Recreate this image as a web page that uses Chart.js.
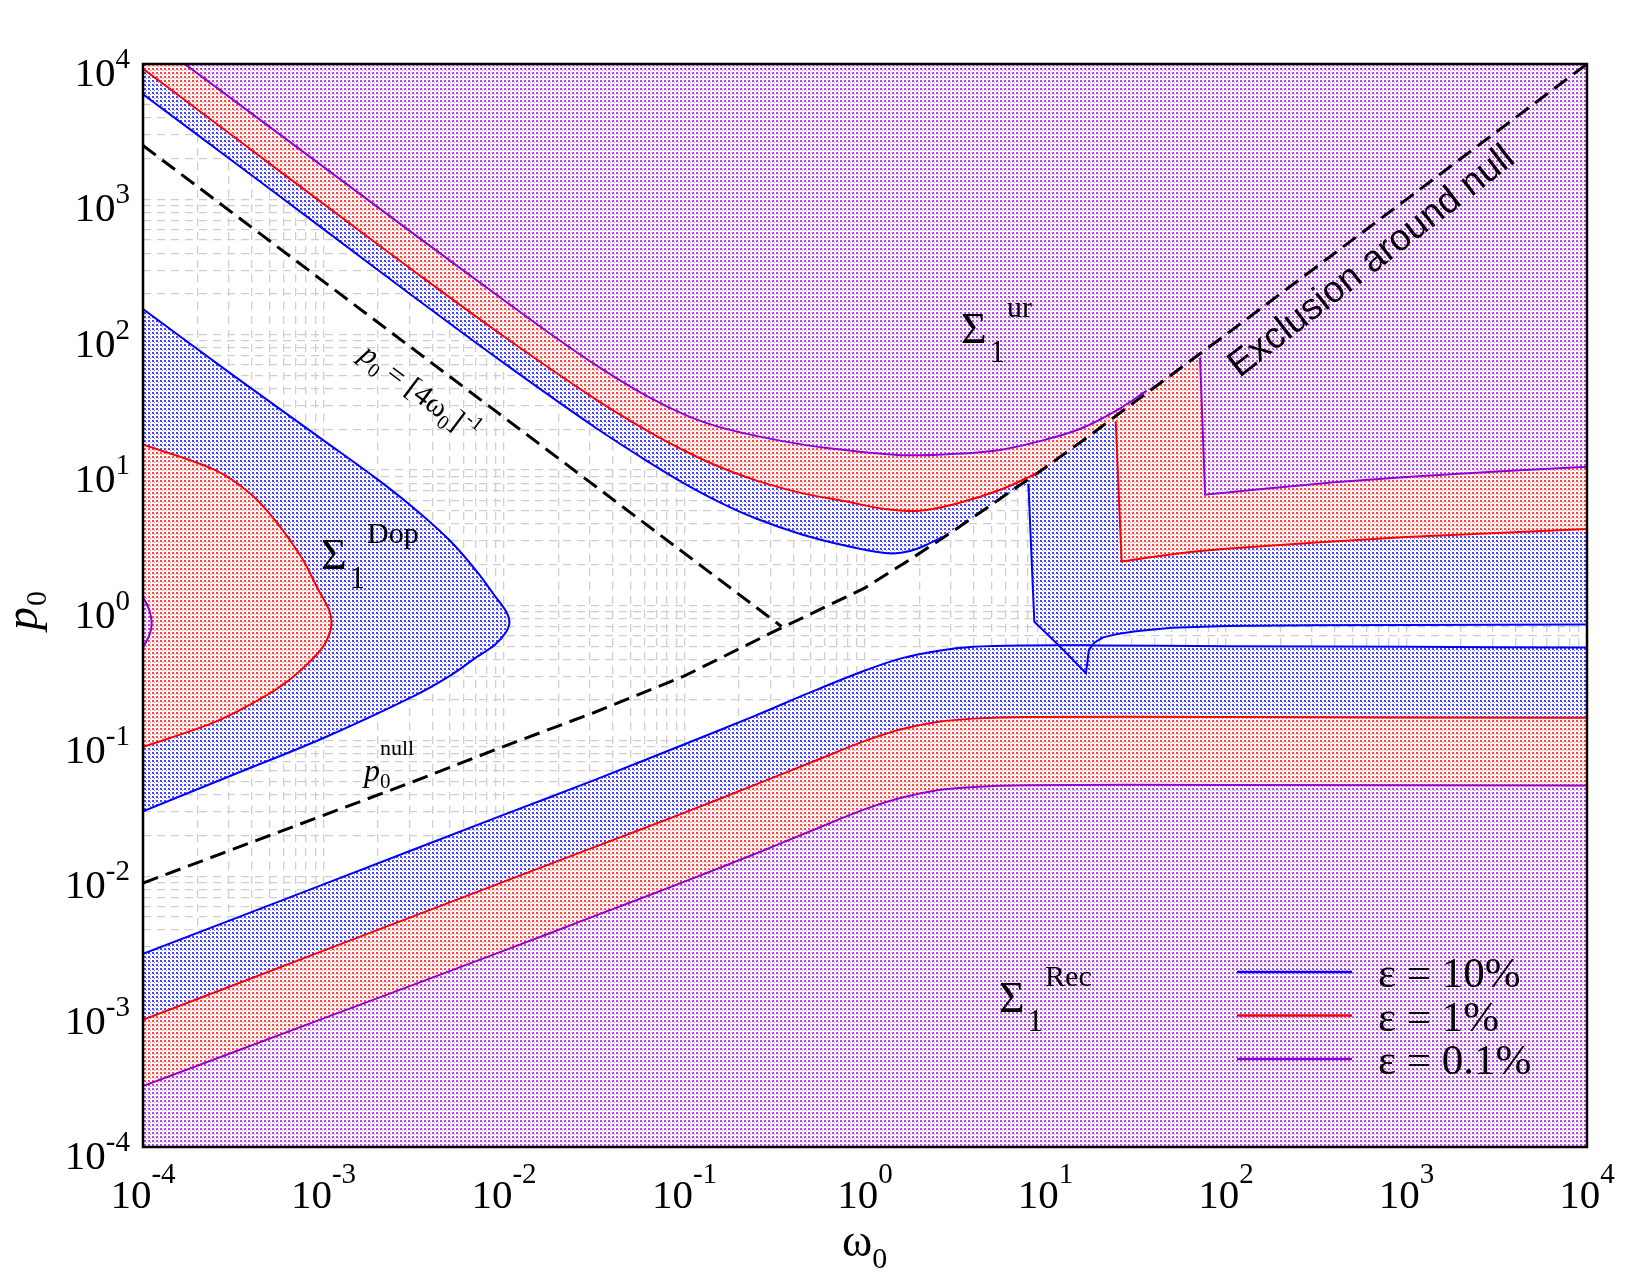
<!DOCTYPE html>
<html>
<head>
<meta charset="utf-8">
<script src="https://cdn.jsdelivr.net/npm/chart.js@4.4.1/dist/chart.umd.min.js"></script>
<style>
  html, body { margin: 0; padding: 0; background: #fff; }
  #wrap { width: 1650px; height: 1275px; }
</style>
</head>
<body>
<div id="wrap"><canvas id="chart" width="1650" height="1275"></canvas></div>
<script>
// axis range and decade tick labels
const xMin = 1e-4, xMax = 1e4, yMin = 1e-4, yMax = 1e4;
const decadeExps = [-4, -3, -2, -1, 0, 1, 2, 3, 4];

// dashed reference lines
const nullOmega = [1e-4, 3.16e-4, 1e-3, 3.16e-3, 1e-2, 3.16e-2, 0.1, 0.316, 1, 1.778, 3.162, 5.623, 10, 17.78, 31.62, 100, 316.2, 1000, 3162, 1e4];
const nullP = [8.91e-3, 1.585e-2, 2.82e-2, 5.01e-2, 9.12e-2, 0.162, 0.302, 0.646, 1.349, 2.188, 3.631, 6.166, 10.47, 18.2, 32.36, 100.4, 316.6, 1000, 3162, 1e4];
const invOmega = [1e-4, 0.345];
const invP = [2500, 0.70];

// eps = 10 %
const blueUpperOmega = [1e-4, 3.16e-4, 1e-3, 3.16e-3, 0.01, 0.0316, 0.0631, 0.1, 0.158, 0.251, 0.447, 0.794, 1.26, 1.585, 2.0, 2.63];
const blueUpperP = [5970, 1905, 603, 191, 61.7, 20.9, 11.5, 7.94, 5.75, 4.37, 3.35, 2.75, 2.45, 2.45, 2.66, 3.16];
const blueRightOmega = [8.04, 8.67, 10, 12.59, 16.75, 17.06, 17.38, 18.62, 20.89, 25.12, 31.62, 50.12, 100, 316.2, 1000, 1e4];
const blueRightP = [7.94, 0.759, 0.631, 0.468, 0.316, 0.380, 0.468, 0.531, 0.582, 0.617, 0.646, 0.684, 0.705, 0.715, 0.719, 0.724];
const blueLowerOmega = [1e-4, 1e-3, 1e-2, 3.16e-2, 0.1, 0.251, 0.501, 1, 1.585, 2.512, 3.981, 7.943, 19.95, 100, 1000, 1e4];
const blueLowerP = [2.67e-3, 8.71e-3, 2.85e-2, 5.13e-2, 9.44e-2, 0.155, 0.229, 0.331, 0.407, 0.462, 0.495, 0.507, 0.507, 0.501, 0.495, 0.490];
const blueDopOmega = [1e-4, 3.16e-4, 1e-3, 2.0e-3, 3.16e-3, 5.01e-3, 7.08e-3, 8.91e-3, 1.023e-2, 1.072e-2, 1.023e-2, 8.91e-3, 7.08e-3, 5.01e-3, 3.16e-3, 1e-3, 3.16e-4, 1e-4];
const blueDopP = [155, 50.1, 16.6, 8.51, 5.25, 3.02, 1.78, 1.175, 0.912, 0.759, 0.631, 0.513, 0.417, 0.302, 0.214, 0.105, 0.0562, 0.0302];

// eps = 1 %
const redUpperOmega = [1e-4, 3.16e-4, 1e-3, 3.16e-3, 0.01, 0.0316, 0.0631, 0.1, 0.158, 0.251, 0.447, 0.794, 1.26, 2.0, 3.16, 5.62, 8.91];
const redUpperP = [9230, 2924, 927, 296, 97.0, 33.9, 19.3, 13.9, 10.5, 8.37, 6.76, 5.86, 5.19, 5.01, 5.62, 7.16, 9.44];
const redRightOmega = [24.5, 26.4, 39.8, 63.1, 100, 316, 1000, 3162, 1e4];
const redRightP = [22.9, 2.11, 2.29, 2.48, 2.63, 2.92, 3.20, 3.43, 3.67];
const redLowerOmega = [1e-4, 1e-3, 1e-2, 3.16e-2, 0.1, 0.251, 0.501, 1, 1.585, 2.512, 3.981, 7.943, 100, 1e4];
const redLowerP = [8.71e-4, 2.82e-3, 9.12e-3, 1.64e-2, 2.95e-2, 4.79e-2, 6.92e-2, 0.1, 0.122, 0.138, 0.146, 0.150, 0.150, 0.148];
const redDopOmega = [1e-4, 2.51e-4, 3.98e-4, 5.62e-4, 7.59e-4, 9.33e-4, 1.072e-3, 1.107e-3, 1.084e-3, 1e-3, 8.32e-4, 6.31e-4, 4.47e-4, 2.51e-4, 1e-4];
const redDopP = [15.5, 10.0, 6.61, 3.98, 2.24, 1.318, 0.933, 0.759, 0.631, 0.501, 0.380, 0.275, 0.204, 0.138, 0.0902];

// eps = 0.1 %
const purpleUpperOmega = [1.70e-4, 3.16e-4, 1e-3, 3.16e-3, 0.01, 0.02, 0.0355, 0.0631, 0.1, 0.158, 0.316, 0.631, 1.585, 3.16, 5.62, 10, 15.85, 25.1, 36.3];
const purpleUpperP = [1e4, 5433, 1738, 556, 180, 92.3, 55.0, 34.7, 25.7, 20.7, 16.8, 14.5, 12.9, 13.2, 14.1, 16.8, 20.4, 27.9, 38.5];
const purpleRightOmega = [71.8, 76.6, 158.5, 398, 1000, 3162, 1e4];
const purpleRightP = [67.6, 6.59, 7.24, 8.13, 8.91, 9.77, 10.6];
const purpleLowerOmega = [1e-4, 1e-3, 1e-2, 3.16e-2, 0.1, 0.251, 0.501, 1, 1.585, 2.512, 3.981, 7.943, 100, 1e4];
const purpleLowerP = [2.82e-4, 8.91e-4, 2.82e-3, 5.07e-3, 9.12e-3, 1.48e-2, 2.16e-2, 3.13e-2, 3.80e-2, 4.32e-2, 4.57e-2, 4.70e-2, 4.73e-2, 4.68e-2];
const purpleDopOmega = [1e-4, 1.059e-4, 1.102e-4, 1.117e-4, 1.102e-4, 1.059e-4, 1e-4];
const purpleDopP = [1.148, 1.0, 0.851, 0.741, 0.646, 0.562, 0.490];

const BLUE = '#0000ff', RED = '#ff0000', PURPLE = '#9400d3';
const SERIF = '"Liberation Serif", "DejaVu Serif", serif';
const SANS = '"Liberation Sans", Arial, sans-serif';

const pts = (xs, ys) => xs.map((x, i) => ({ x, y: ys[i] }));
const nullPts = pts(nullOmega, nullP);

// log grid lines at 1..9 x 10^n
const gridValues = [];
for (let e = -4; e < 4; e++) for (let k = 1; k < 10; k++) gridValues.push(k * Math.pow(10, e));
gridValues.push(1e4);

function curve(key, xs, ys, color, smooth, label) {
  return {
    key, data: pts(xs, ys), showLine: true, borderColor: color, borderWidth: 2,
    pointRadius: 0, fill: false, tension: smooth ? 0.35 : 0, legendLabel: label
  };
}

// excluded regions: a curve key traces that dataset, {x,y} is a corner,
// {between: [a, b]} follows the null line between the ends of curves a and b
const regionDefs = [
  { color: BLUE, polys: [
    [{ x: xMin, y: yMax }, 'blueUpper', { between: ['blueUpper', 'blueRight'] }, 'blueRight', { x: xMax, y: yMax }],
    [{ x: xMin, y: yMin }, 'blueLower', { x: xMax, y: yMin }],
    ['blueDop']
  ] },
  { color: RED, polys: [
    [{ x: xMin, y: yMax }, 'redUpper', { between: ['redUpper', 'redRight'] }, 'redRight', { x: xMax, y: yMax }],
    [{ x: xMin, y: yMin }, 'redLower', { x: xMax, y: yMin }],
    ['redDop']
  ] },
  { color: PURPLE, polys: [
    ['purpleUpper', { between: ['purpleUpper', 'purpleRight'] }, 'purpleRight', { x: xMax, y: yMax }],
    [{ x: xMin, y: yMin }, 'purpleLower', { x: xMax, y: yMin }],
    ['purpleDop']
  ] }
];

function dotPattern(ctx, color) {
  const c = document.createElement('canvas');
  c.width = 4; c.height = 4;
  const g = c.getContext('2d');
  g.fillStyle = '#fff';
  g.fillRect(0, 0, 4, 4);
  g.fillStyle = color;
  g.globalAlpha = 0.72;
  g.fillRect(0, 0, 2, 2);
  g.globalAlpha = 0.5;
  g.fillRect(2, 2, 1, 1);
  return ctx.createPattern(c, 'repeat');
}

const fillPlugin = {
  id: 'regionFill',
  beforeDatasetsDraw(chart) {
    const { ctx, chartArea: a, scales: { x, y } } = chart;
    const byKey = k => chart.getDatasetMeta(chart.data.datasets.findIndex(d => d.key === k));
    const dataOf = k => chart.data.datasets.find(d => d.key === k).data;
    ctx.save();
    ctx.beginPath();
    ctx.rect(a.left, a.top, a.right - a.left, a.bottom - a.top);
    ctx.clip();
    regionDefs.forEach(r => {
      ctx.fillStyle = dotPattern(ctx, r.color);
      r.polys.forEach(poly => {
        let started = false;
        const go = (px, py) => {
          if (started) ctx.lineTo(px, py);
          else { ctx.moveTo(px, py); started = true; }
        };
        ctx.beginPath();
        poly.forEach(item => {
          if (typeof item === 'string') {
            const meta = byKey(item);
            meta.dataset.updateControlPoints(a, 'x');
            const el = meta.data;
            el.forEach((p, i) => {
              const q = el[i - 1];
              if (!q || q.cp2x === undefined || p.cp1x === undefined) go(p.x, p.y);
              else ctx.bezierCurveTo(q.cp2x, q.cp2y, p.cp1x, p.cp1y, p.x, p.y);
            });
          } else if (item.between) {
            const a0 = dataOf(item.between[0]), b0 = dataOf(item.between[1]);
            const lo = a0[a0.length - 1].x, hi = b0[0].x;
            nullPts.filter(p => p.x > lo && p.x < hi)
              .forEach(p => go(x.getPixelForValue(p.x), y.getPixelForValue(p.y)));
          } else {
            go(x.getPixelForValue(item.x), y.getPixelForValue(item.y));
          }
        });
        ctx.closePath();
        ctx.fill();
      });
    });
    ctx.restore();
  }
};

// text with sub/superscripts: parts = {t, font, dy, gap, keep}
function richText(ctx, parts, x, y, angle, align) {
  ctx.save();
  ctx.translate(x, y);
  ctx.rotate(angle);
  let w = 0;
  parts.forEach(p => {
    ctx.font = p.font;
    p.w = ctx.measureText(p.t).width;
    if (!p.keep) w += p.w + (p.gap || 0);
  });
  let cx = align === 'center' ? -w / 2 : align === 'right' ? -w : 0;
  ctx.textBaseline = 'alphabetic';
  ctx.textAlign = 'left';
  parts.forEach(p => {
    ctx.font = p.font;
    ctx.fillText(p.t, cx + (p.gap || 0), p.dy || 0);
    if (!p.keep) cx += p.w + (p.gap || 0);
  });
  ctx.restore();
}

const f = (size, style) => (style ? style + ' ' : '') + size + 'px ' + SERIF;

const decorPlugin = {
  id: 'decor',
  afterDatasetsDraw(chart) {
    const { ctx, chartArea: a } = chart;
    ctx.save();
    ctx.strokeStyle = '#000';
    ctx.lineWidth = 2.5;
    ctx.strokeRect(a.left, a.top, a.right - a.left, a.bottom - a.top);
    ctx.restore();
  },
  afterDraw(chart) {
    const { ctx, scales: { x, y } } = chart;
    ctx.save();
    ctx.fillStyle = '#000';
    decadeExps.forEach(e => {
      const v = Math.pow(10, e);
      richText(ctx, [{ t: '10', font: f(41) }, { t: String(e), font: f(29), dy: -25 }],
        x.getPixelForValue(v), 1208, 0, 'center');
      richText(ctx, [{ t: '10', font: f(41) }, { t: String(e), font: f(29), dy: -18 }],
        130, y.getPixelForValue(v) + 22, 0, 'right');
    });

    // axis titles
    richText(ctx, [{ t: 'ω', font: f(46) }, { t: '0', font: f(30), dy: 12 }], 842, 1256, 0, 'left');
    richText(ctx, [{ t: 'p', font: f(46, 'italic') }, { t: '0', font: f(30), dy: 9, gap: 1 }], 37, 630, -Math.PI / 2, 'left');

    // region labels
    const sigma = (sup, px, py) => richText(ctx, [
      { t: 'Σ', font: f(44) }, { t: '1', font: f(31), dy: 19, gap: 3 }, { t: sup, font: f(30), dy: -26, gap: 2 }
    ], px, py, 0, 'left');
    sigma('ur', 961, 343);
    sigma('Dop', 321, 569);
    sigma('Rec', 999, 1012);

    richText(ctx, [
      { t: 'p', font: f(30, 'italic') }, { t: '0', font: f(20), dy: 7 }, { t: ' = [4ω', font: f(30) },
      { t: '0', font: f(20), dy: 7 }, { t: ']', font: f(30) }, { t: '-1', font: f(20), dy: -13, gap: 2 }
    ], 414, 400, 37 * Math.PI / 180, 'center');

    richText(ctx, [
      { t: 'p', font: f(32, 'italic') }, { t: '0', font: f(21), dy: 7, keep: true }, { t: 'null', font: f(22), dy: -26 }
    ], 364, 781, 0, 'left');

    ctx.font = '37px ' + SANS;
    ctx.save();
    ctx.translate(1378, 270);
    ctx.rotate(-38 * Math.PI / 180);
    ctx.textAlign = 'center';
    ctx.textBaseline = 'alphabetic';
    ctx.fillText('Exclusion around null', 0, 0);
    ctx.restore();

    // legend
    const items = chart.data.datasets.filter(d => d.legendLabel);
    items.forEach((d, i) => {
      const ly = 972 + i * 43.5;
      ctx.strokeStyle = d.borderColor;
      ctx.lineWidth = 2.5;
      ctx.beginPath();
      ctx.moveTo(1237, ly);
      ctx.lineTo(1352, ly);
      ctx.stroke();
      ctx.fillStyle = '#000';
      ctx.font = f(43);
      ctx.fillText(d.legendLabel, 1378, ly + 15);
    });
    ctx.restore();
  }
};

const axisOpts = {
  type: 'logarithmic',
  min: xMin, max: xMax,
  afterBuildTicks: s => { s.ticks = gridValues.map(v => ({ value: v })); },
  ticks: { display: false },
  grid: { color: '#cfcfcf', lineWidth: 1.3, drawTicks: false },
  border: { display: false, dash: [8, 6] }
};

const dashed = (xs, ys) => ({
  data: pts(xs, ys), showLine: true, borderColor: '#000', borderWidth: 3,
  borderDash: [16, 8], pointRadius: 0, fill: false, tension: 0
});

new Chart(document.getElementById('chart'), {
  type: 'scatter',
  data: {
    datasets: [
      curve('blueUpper', blueUpperOmega, blueUpperP, BLUE, true, 'ε = 10%'),
      curve('redUpper', redUpperOmega, redUpperP, RED, true, 'ε = 1%'),
      curve('purpleUpper', purpleUpperOmega, purpleUpperP, PURPLE, true, 'ε = 0.1%'),
      curve('blueRight', blueRightOmega, blueRightP, BLUE, false),
      curve('blueLower', blueLowerOmega, blueLowerP, BLUE, true),
      curve('blueDop', blueDopOmega, blueDopP, BLUE, true),
      curve('redRight', redRightOmega, redRightP, RED, false),
      curve('redLower', redLowerOmega, redLowerP, RED, true),
      curve('redDop', redDopOmega, redDopP, RED, true),
      curve('purpleRight', purpleRightOmega, purpleRightP, PURPLE, false),
      curve('purpleLower', purpleLowerOmega, purpleLowerP, PURPLE, true),
      curve('purpleDop', purpleDopOmega, purpleDopP, PURPLE, true),
      dashed(nullOmega, nullP),
      dashed(invOmega, invP)
    ]
  },
  options: {
    responsive: false,
    animation: false,
    layout: { padding: { left: 143, right: 63, top: 64, bottom: 128 } },
    plugins: { legend: { display: false }, tooltip: { enabled: false } },
    scales: {
      x: { ...axisOpts, position: 'bottom' },
      y: { ...axisOpts, min: yMin, max: yMax, position: 'left' }
    }
  },
  plugins: [fillPlugin, decorPlugin]
});
</script>
</body>
</html>
